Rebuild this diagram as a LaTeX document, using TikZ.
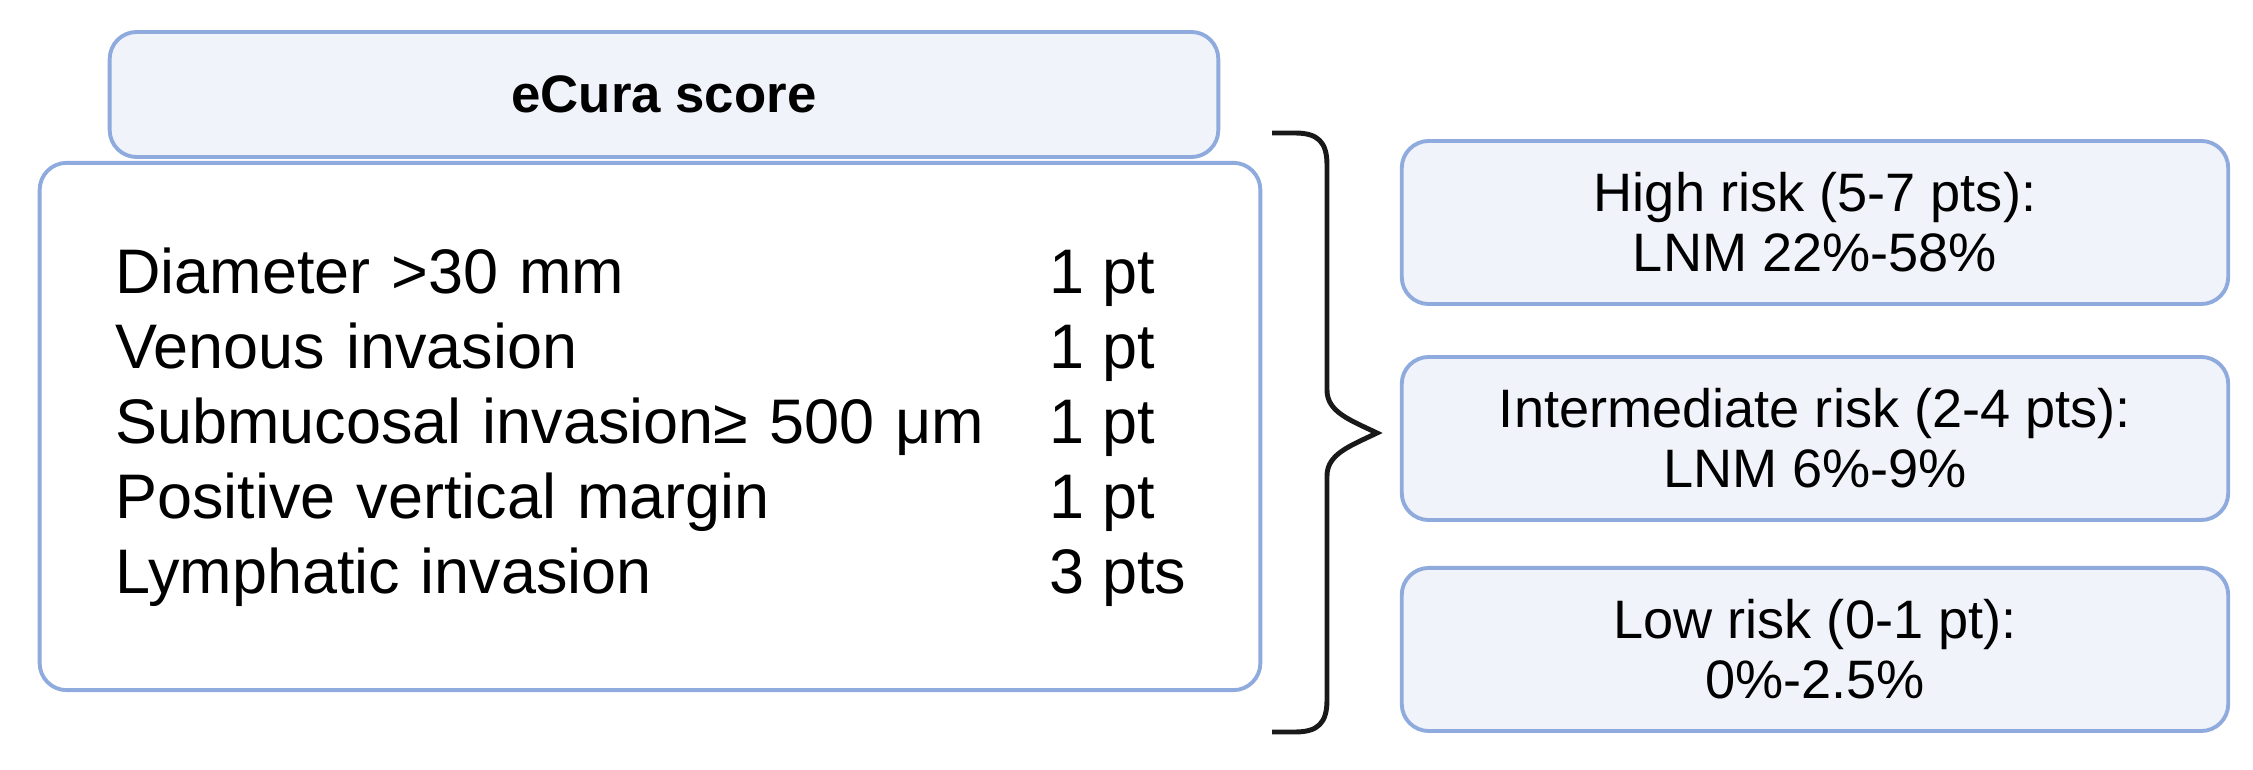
\documentclass[tikz,border=0pt]{standalone}
\usepackage{fontspec}
\setmainfont{Liberation Sans}
\usepackage{tikz}
\usetikzlibrary{matrix,positioning}
\definecolor{boxline}{RGB}{143,170,220}
\definecolor{boxfill}{RGB}{240,244,250}

\begin{document}
\begin{tikzpicture}[x=0.01cm,y=-0.01cm,
  roundbox/.style={draw=boxline,line width=1.1pt,rounded corners=0.27cm,inner sep=0pt},
  riskbox/.style={roundbox,fill=boxfill,minimum width=8.26cm,minimum height=1.63cm,align=center,font=\fontsize{15.4}{17.1}\selectfont}]
\useasboundingbox (0,0) rectangle (2253,770);
\node[roundbox,fill=white,minimum width=12.2cm,minimum height=5.27cm] (crit) at (650,426.5) {};
\node[roundbox,fill=boxfill,minimum width=11.08cm,minimum height=1.25cm,font=\fontsize{15}{18}\selectfont\bfseries] (head) at (664,94.5) {eCura score};
\matrix (m) [matrix of nodes, below right=0.82cm and 0.77cm of crit.north west, inner sep=0pt, row sep=0.1cm, column sep=0pt,
  nodes={anchor=base west, inner sep=0pt, text height=0.5cm, text depth=0.15cm, font=\fontsize{17.9}{21}\selectfont},
  column 1/.style={nodes={text width=9.34cm, align=left}}]
{
Diameter >30 mm & 1 pt \\
Venous invasion & 1 pt \\
Submucosal invasion≥ 500 μm & 1 pt \\
Positive vertical margin & 1 pt \\
Lymphatic invasion & 3 pts \\
};
\node[riskbox] (high) at (1815,222.5) {High risk (5-7 pts):\\LNM 22\%-58\%};
\node[riskbox,below=0.49cm of high] (mid) {Intermediate risk (2-4 pts):\\LNM 6\%-9\%};
\node[riskbox,below=0.44cm of mid] (low) {Low risk (0-1 pt):\\0\%-2.5\%};
\draw[line width=1.4pt,black!90] (1272,133) -- (1295,133) .. controls (1318,133) and (1327,142) .. (1327,165) -- (1327,390)
  .. controls (1327,412) and (1350,420) .. (1377,433) .. controls (1350,446) and (1327,454) .. (1327,476) -- (1327,700)
  .. controls (1327,723) and (1318,732) .. (1295,732) -- (1272,732);
\end{tikzpicture}
\end{document}
